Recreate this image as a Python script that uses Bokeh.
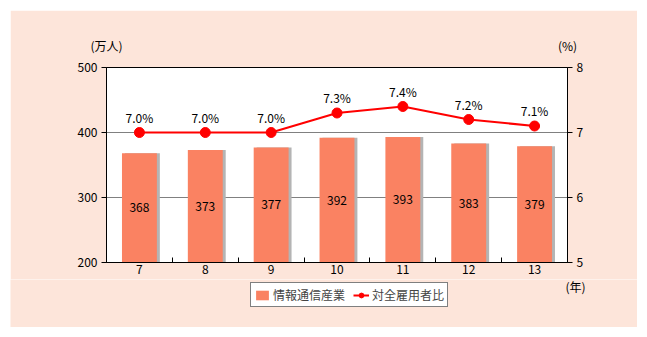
from bokeh.plotting import figure
from bokeh.layouts import column
from bokeh.models import (Range1d, LinearAxis, FixedTicker, Label, Legend, LegendItem,
                          ColumnDataSource)
from bokeh.transform import dodge
from bokeh.core.properties import value
from bokeh.embed import file_html
from bokeh.resources import INLINE

years = [7, 8, 9, 10, 11, 12, 13]
year_labels = ["7", "8", "9", "10", "11", "12", "13"]
workers = [368, 373, 377, 392, 393, 383, 379]
ratio = [7.0, 7.0, 7.0, 7.3, 7.4, 7.2, 7.1]
ratio_labels = ["7.0%", "7.0%", "7.0%", "7.3%", "7.4%", "7.2%", "7.1%"]
bar_name = "情報通信産業"
line_name = "対全雇用者比"
left_unit = "(万人)"
right_unit = "(%)"
x_unit = "(年)"

FONT = "Noto Sans CJK JP"
PINK = "#FDE5DA"
SALMON = "#FA8262"
RED = "#FF0000"

src = ColumnDataSource(dict(
    x=years, w=workers, mid=[(200 + v) / 2 for v in workers],
    wl=[str(v) for v in workers], r=ratio, rl=ratio_labels))

p = figure(width=627, height=269, output_backend="svg", toolbar_location=None,
           x_range=Range1d(6.5, 13.5), y_range=Range1d(200, 500),
           min_border_left=96, min_border_right=70, min_border_top=57, min_border_bottom=17,
           background_fill_color="white", border_fill_color=PINK,
           outline_line_color="black", outline_line_width=1)
p.margin = (10, 10, 0, 10)
p.extra_y_ranges = {"pct": Range1d(5, 8)}

xa = p.below[0]
ya = p.left[0]

# axes
ya.ticker = FixedTicker(ticks=[200, 300, 400, 500])
ya.major_tick_out = 5
ya.major_tick_in = 0
ya.minor_tick_line_color = None
ya.axis_line_color = "black"
ya.major_tick_line_color = "black"

ra = LinearAxis(y_range_name="pct", ticker=FixedTicker(ticks=[5, 6, 7, 8]))
ra.major_tick_out = 5
ra.major_tick_in = 0
ra.minor_tick_line_color = None
p.add_layout(ra, "right")

xa.ticker = FixedTicker(ticks=years, minor_ticks=[7.5, 8.5, 9.5, 10.5, 11.5, 12.5])
xa.major_label_overrides = {y: l for y, l in zip(years, year_labels)}
xa.major_tick_line_color = None
xa.major_tick_out = 0
xa.major_tick_in = 0
xa.minor_tick_in = 5
xa.minor_tick_out = 0
xa.minor_tick_line_color = "black"

# unit labels as tick labels of a bare top axis
ua = LinearAxis(ticker=FixedTicker(ticks=[6.5, 13.5]),
                major_label_overrides={6.5: left_unit, 13.5: right_unit},
                axis_line_color=None, major_tick_line_color=None, minor_tick_line_color=None,
                major_tick_out=0, major_tick_in=0)
p.add_layout(ua, "above")

for ax in [xa, ya, ra, ua]:
    ax.major_label_text_font = FONT
    ax.major_label_text_font_size = "12px"
    ax.major_label_text_color = "black"
    ax.major_label_standoff = 4
xa.major_label_standoff = 2
ua.major_label_standoff = 14

p.xgrid.grid_line_color = None
p.ygrid.ticker = FixedTicker(ticks=[300, 400])
p.ygrid.grid_line_color = "#808080"

# bars with shadow
p.vbar(x=dodge("x", 0.045, range=p.x_range), top="w", bottom=200, width=0.53,
       source=src, fill_color="#B4B4B4", line_color=None)
bars = p.vbar(x="x", top="w", bottom=200, width=0.53, source=src,
              fill_color=SALMON, line_color=None)
p.text(x="x", y="mid", text="wl", source=src, text_align="center", text_baseline="middle",
       text_font=value(FONT), text_font_size="12px", text_color="black")

# line
ln = p.line(x="x", y="r", source=src, y_range_name="pct", line_color=RED, line_width=2)
sc = p.scatter(x="x", y="r", source=src, y_range_name="pct", size=10,
               fill_color=RED, line_color=RED)
p.text(x="x", y="r", text="rl", source=src, y_range_name="pct", y_offset=-7,
       text_align="center", text_baseline="bottom",
       text_font=value(FONT), text_font_size="12px", text_color="black")

# legend strip (second figure, pixel-sized ranges)
p2 = figure(width=627, height=48, output_backend="svg", toolbar_location=None,
            x_range=Range1d(0, 627), y_range=Range1d(0, 48),
            x_axis_type=None, y_axis_type=None, min_border=0,
            background_fill_color=PINK, border_fill_color=PINK, outline_line_color=None)
p2.margin = (0, 10, 10, 10)
try:
    p2.frame_align = False
    p.frame_align = False
except Exception:
    pass

# legend proxies (hidden)
lb = p2.vbar(x="x", top="w", bottom=200, width=0.53, source=src,
             fill_color=SALMON, line_color=None, visible=False)
ll = p2.line(x="x", y="r", source=src, line_color=RED, line_width=2, visible=False)
ls = p2.scatter(x="x", y="r", source=src, size=8, fill_color=RED, line_color=RED,
                visible=False)

p2.add_layout(Label(x=555, y=41, text=x_unit, text_align="left", text_baseline="middle",
                    text_font=FONT, text_font_size="12px", text_color="black"))

legend = Legend(items=[LegendItem(label=bar_name, renderers=[lb]),
                       LegendItem(label=line_name, renderers=[ll, ls])],
                orientation="horizontal", location=(240, 20),
                border_line_color="black", border_line_width=1,
                background_fill_color="white", background_fill_alpha=1,
                inactive_fill_alpha=0,
                label_text_font=FONT, label_text_font_size="12px",
                glyph_width=16, glyph_height=12, padding=3, spacing=8,
                label_standoff=3, margin=0, label_height=12)
p2.add_layout(legend, "center")

layout = column(p, p2, spacing=0)
open("out.html", "w").write(file_html(layout, INLINE))
